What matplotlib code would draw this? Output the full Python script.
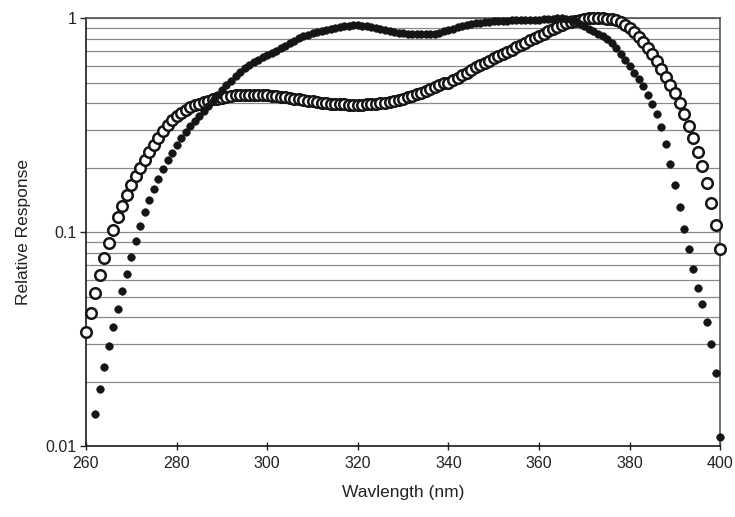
import numpy as np
import matplotlib
matplotlib.use("Agg")
import matplotlib.pyplot as plt
from matplotlib.ticker import FixedLocator, NullFormatter

plt.rcParams['font.family'] = ['Liberation Sans', 'DejaVu Sans']

# wavelength grid, 1 nm steps
wl_open = np.arange(260, 401)
wl_filled = np.arange(262, 401)

# relative response, open-circle detector (260-400 nm)
resp_open = [
    0.034, 0.042, 0.052, 0.063, 0.076, 0.089, 0.102, 0.118, 0.132, 0.149,
    0.166, 0.183, 0.200, 0.217, 0.237, 0.256, 0.276, 0.296, 0.316, 0.334,
    0.349, 0.362, 0.373, 0.383, 0.392, 0.399, 0.406, 0.412, 0.417, 0.421,
    0.425, 0.429, 0.432, 0.435, 0.437, 0.438, 0.438, 0.438, 0.437, 0.436,
    0.435, 0.433, 0.431, 0.429, 0.426, 0.423, 0.420, 0.417, 0.414, 0.411,
    0.408, 0.405, 0.402, 0.400, 0.398, 0.397, 0.396, 0.395, 0.394, 0.394,
    0.394, 0.394, 0.395, 0.396, 0.398, 0.400, 0.403, 0.407, 0.411, 0.416,
    0.421, 0.427, 0.434, 0.441, 0.449, 0.458, 0.467, 0.477, 0.487, 0.497,
    0.500, 0.512, 0.525, 0.540, 0.556, 0.572, 0.588, 0.603, 0.618, 0.633,
    0.648, 0.664, 0.680, 0.696, 0.713, 0.730, 0.748, 0.767, 0.786, 0.805,
    0.825, 0.845, 0.866, 0.887, 0.908, 0.928, 0.945, 0.960, 0.973, 0.984,
    0.992, 0.997, 1.000, 1.000, 0.998, 0.994, 0.987, 0.975, 0.955, 0.930,
    0.900, 0.862, 0.820, 0.775, 0.727, 0.678, 0.630, 0.580, 0.530, 0.485,
    0.445, 0.400, 0.355, 0.313, 0.275, 0.238, 0.203, 0.170, 0.137, 0.108,
    0.083,
]

# relative response, filled-dot detector (262-400 nm)
resp_filled = [
    0.0142, 0.0185, 0.0235, 0.0293, 0.0360, 0.0438, 0.0530, 0.0637,
    0.0767, 0.0910, 0.1067, 0.1245, 0.141, 0.159, 0.177, 0.197, 0.217, 0.235,
    0.255, 0.274, 0.293, 0.312, 0.329, 0.350, 0.370, 0.390, 0.412, 0.436,
    0.462, 0.487, 0.510, 0.535, 0.558, 0.582, 0.603, 0.622, 0.640, 0.657,
    0.673, 0.689, 0.705, 0.723, 0.742, 0.762, 0.784, 0.804, 0.822, 0.838,
    0.850, 0.862, 0.873, 0.884, 0.893, 0.902, 0.910, 0.916, 0.921, 0.924,
    0.925, 0.923, 0.918, 0.910, 0.900, 0.890, 0.880, 0.870, 0.861, 0.854,
    0.849, 0.845, 0.842, 0.840, 0.839, 0.839, 0.841, 0.846, 0.854, 0.866,
    0.880, 0.893, 0.906, 0.918, 0.928, 0.937, 0.945, 0.952, 0.958, 0.963,
    0.967, 0.970, 0.972, 0.974, 0.975, 0.976, 0.977, 0.978, 0.979, 0.981,
    0.983, 0.986, 0.990, 0.994, 0.997, 0.998, 0.995, 0.985, 0.965, 0.940,
    0.915, 0.890, 0.866, 0.845, 0.824, 0.800, 0.766, 0.725, 0.682, 0.638,
    0.595, 0.556, 0.520, 0.480, 0.438, 0.396, 0.356, 0.310, 0.257, 0.209,
    0.166, 0.131, 0.103, 0.083, 0.067, 0.055, 0.046, 0.038, 0.030, 0.022,
    0.011,
]

x_ticks = [260, 280, 300, 320, 340, 360, 380, 400]
y_ticks = [0.01, 0.1, 1]
y_tick_labels = ['0.01', '0.1', '1']

fig = plt.figure(figsize=(7.35, 5.17), dpi=100)
ax = fig.add_axes([0.117, 0.137, 0.863, 0.828])

ax.plot(wl_open, resp_open, linestyle='none', marker='o', markersize=7.6,
        markerfacecolor='white', markeredgecolor='#151515',
        markeredgewidth=1.8, zorder=3, clip_on=False)
ax.plot(wl_filled, resp_filled, linestyle='none', marker='o', markersize=5.4,
        markerfacecolor='#151515', markeredgecolor='#151515',
        markeredgewidth=0.5, zorder=4, clip_on=False)

ax.set_yscale('log')
ax.set_xlim(260, 400)
ax.set_ylim(0.01, 1)

ax.set_xticks(x_ticks)
ax.set_yticks(y_ticks)
ax.set_yticklabels(y_tick_labels)
minor = [m * 10.0 ** e for e in (-2, -1) for m in range(2, 10)]
ax.yaxis.set_minor_locator(FixedLocator(minor))
ax.yaxis.set_minor_formatter(NullFormatter())

ax.grid(True, which='both', axis='y', color='#8a8a8a', linewidth=0.9)
ax.grid(False, axis='x')
ax.set_axisbelow(True)

ax.tick_params(axis='x', direction='inout', length=6, width=1,
               labelsize=11.5, colors='#222222', pad=4)
ax.tick_params(axis='y', which='major', direction='out', length=4, width=1,
               labelsize=11.5, colors='#222222', pad=3)
ax.tick_params(axis='y', which='minor', length=0)

for side in ('left', 'bottom'):
    ax.spines[side].set_color('#1a1a1a')
    ax.spines[side].set_linewidth(1.2)
for side in ('top', 'right'):
    ax.spines[side].set_color('#555555')
    ax.spines[side].set_linewidth(1.2)

ax.set_xlabel('Wavlength (nm)', fontsize=12.5, color='#222222', labelpad=10)
ax.set_ylabel('Relative Response', fontsize=12.5, color='#222222', labelpad=10)

fig.savefig('out.png', dpi=100, facecolor='white')
